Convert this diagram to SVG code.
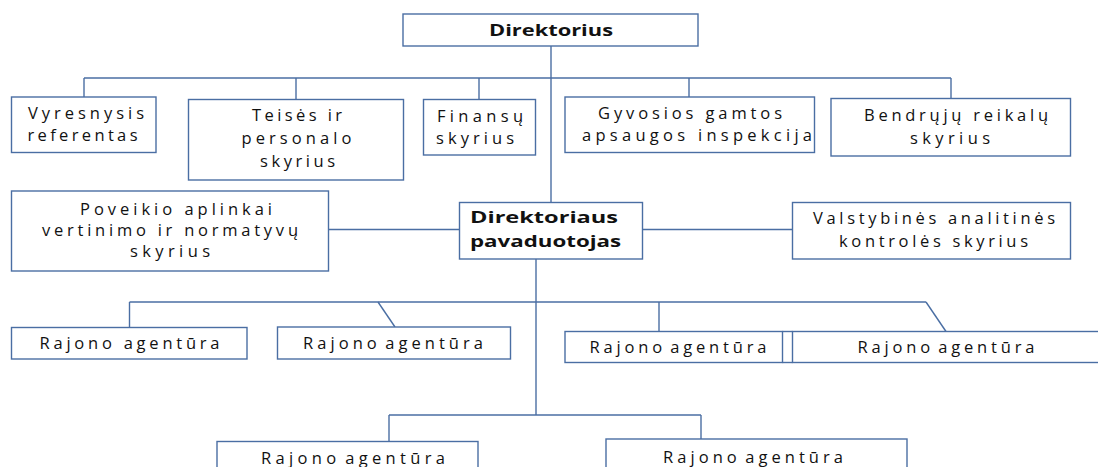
<svg xmlns="http://www.w3.org/2000/svg" width="1098" height="467" viewBox="0 0 1098 467">
  <style>
    .box { fill: #ffffff; stroke: #4A6EA3; stroke-width: 1.4; }
    .link { fill: none; stroke: #4A6EA3; stroke-width: 1.4; }
    .t { font-family: "Open Sans", "Liberation Sans", sans-serif; font-size: 16.5px; fill: #111111; }
    .b { font-family: "Open Sans", "Liberation Sans", sans-serif; font-size: 16px; font-weight: bold; fill: #111111; }
  </style>
  <rect width="1098" height="467" fill="#ffffff"/>

  <!-- connectors -->
  <g id="connectors">
    <!-- director down to deputy -->
    <line class="link" x1="551" y1="46" x2="551" y2="202"/>
    <!-- top bus and drops -->
    <line class="link" x1="84" y1="78" x2="951" y2="78"/>
    <line class="link" x1="84" y1="78" x2="84" y2="97"/>
    <line class="link" x1="296" y1="78" x2="296" y2="99"/>
    <line class="link" x1="479" y1="78" x2="479" y2="99"/>
    <line class="link" x1="689" y1="78" x2="689" y2="97"/>
    <line class="link" x1="951" y1="78" x2="951" y2="98"/>
    <!-- deputy side links -->
    <line class="link" x1="329" y1="229.5" x2="459" y2="229.5"/>
    <line class="link" x1="643" y1="229.5" x2="792" y2="229.5"/>
    <!-- deputy down -->
    <line class="link" x1="536" y1="259" x2="536" y2="415"/>
    <!-- agency bus -->
    <line class="link" x1="129.5" y1="302" x2="926" y2="302"/>
    <line class="link" x1="129.5" y1="302" x2="129.5" y2="327"/>
    <line class="link" x1="378" y1="302" x2="395" y2="327"/>
    <line class="link" x1="659" y1="302" x2="659" y2="331.5"/>
    <line class="link" x1="926" y1="302" x2="946" y2="331.5"/>
    <!-- lower bus -->
    <line class="link" x1="389" y1="415" x2="701" y2="415"/>
    <line class="link" x1="389" y1="415" x2="389" y2="441.5"/>
    <line class="link" x1="701" y1="415" x2="701" y2="439"/>
  </g>

  <g id="direktorius">
    <rect class="box" x="403" y="14" width="295" height="32"/>
    <text class="b" x="489" y="35.5" textLength="124" lengthAdjust="spacingAndGlyphs">Direktorius</text>
  </g>

  <g id="vyresnysis-referentas">
    <rect class="box" x="11.5" y="97" width="144.5" height="55.5"/>
    <text class="t" x="28" y="119" textLength="116" lengthAdjust="spacing">Vyresnysis</text>
    <text class="t" x="27.5" y="140.5" textLength="110" lengthAdjust="spacing">referentas</text>
  </g>

  <g id="teises-personalo">
    <rect class="box" x="188.5" y="99.5" width="215" height="80.5"/>
    <text class="t" x="252" y="121" textLength="90" lengthAdjust="spacing">Teisės ir</text>
    <text class="t" x="241.5" y="144" textLength="110" lengthAdjust="spacing">personalo</text>
    <text class="t" x="260" y="167" textLength="75" lengthAdjust="spacing">skyrius</text>
  </g>

  <g id="finansu">
    <rect class="box" x="423.5" y="99.5" width="112" height="55.5"/>
    <text class="t" x="437" y="121.5" textLength="86" lengthAdjust="spacing">Finansų</text>
    <text class="t" x="436" y="143.5" textLength="78" lengthAdjust="spacing">skyrius</text>
  </g>

  <g id="gyvosios-gamtos">
    <rect class="box" x="565" y="97" width="249.5" height="55.5"/>
    <text class="t" x="598" y="119" textLength="184" lengthAdjust="spacing">Gyvosios gamtos</text>
    <text class="t" x="582" y="140.5" textLength="230" lengthAdjust="spacing">apsaugos inspekcija</text>
  </g>

  <g id="bendruju-reikalu">
    <rect class="box" x="831" y="98.5" width="239.5" height="57.5"/>
    <text class="t" x="864" y="121" textLength="184" lengthAdjust="spacing">Bendrųjų reikalų</text>
    <text class="t" x="910" y="144" textLength="80" lengthAdjust="spacing">skyrius</text>
  </g>

  <g id="poveikio-aplinkai">
    <rect class="box" x="11.5" y="191" width="317" height="80"/>
    <text class="t" x="80" y="214.5" textLength="192" lengthAdjust="spacing">Poveikio aplinkai</text>
    <text class="t" x="42" y="236" textLength="256" lengthAdjust="spacing">vertinimo ir normatyvų</text>
    <text class="t" x="130" y="257" textLength="80" lengthAdjust="spacing">skyrius</text>
  </g>

  <g id="direktoriaus-pavaduotojas">
    <rect class="box" x="459.5" y="202.5" width="183" height="56.5"/>
    <text class="b" x="470" y="223" textLength="148" lengthAdjust="spacingAndGlyphs">Direktoriaus</text>
    <text class="b" x="470" y="247" textLength="151" lengthAdjust="spacingAndGlyphs">pavaduotojas</text>
  </g>

  <g id="valstybines-analitines">
    <rect class="box" x="792.5" y="202.5" width="278" height="56.5"/>
    <text class="t" x="813" y="223.5" textLength="242" lengthAdjust="spacing">Valstybinės analitinės</text>
    <text class="t" x="839" y="247" textLength="189" lengthAdjust="spacing">kontrolės skyrius</text>
  </g>

  <g id="agentura-1">
    <rect class="box" x="11.5" y="327.5" width="235.5" height="31.5"/>
    <text class="t" x="39.5" y="349" textLength="180" lengthAdjust="spacing">Rajono agentūra</text>
  </g>

  <g id="agentura-2">
    <rect class="box" x="277.5" y="327" width="233" height="32"/>
    <text class="t" x="303" y="349" textLength="180" lengthAdjust="spacing" word-spacing="-4">Rajono agentūra</text>
  </g>

  <g id="agentura-3">
    <rect class="box" x="565" y="331.5" width="217.5" height="31"/>
    <text class="t" x="589.5" y="353" textLength="177" lengthAdjust="spacing" word-spacing="-4">Rajono agentūra</text>
  </g>

  <g id="agentura-4">
    <rect class="box" x="792.5" y="331.5" width="310" height="31"/>
    <line class="link" x1="782.5" y1="331.5" x2="792.5" y2="331.5"/>
    <line class="link" x1="782.5" y1="362.5" x2="792.5" y2="362.5"/>
    <text class="t" x="857.5" y="353" textLength="177" lengthAdjust="spacing" word-spacing="-4">Rajono agentūra</text>
  </g>

  <g id="agentura-5">
    <rect class="box" x="217" y="441.5" width="261" height="40"/>
    <text class="t" x="261" y="463.5" textLength="184" lengthAdjust="spacing" word-spacing="-4">Rajono agentūra</text>
  </g>

  <g id="agentura-6">
    <rect class="box" x="606" y="439" width="301" height="40"/>
    <text class="t" x="663" y="463" textLength="180" lengthAdjust="spacing" word-spacing="-4">Rajono agentūra</text>
  </g>
</svg>
